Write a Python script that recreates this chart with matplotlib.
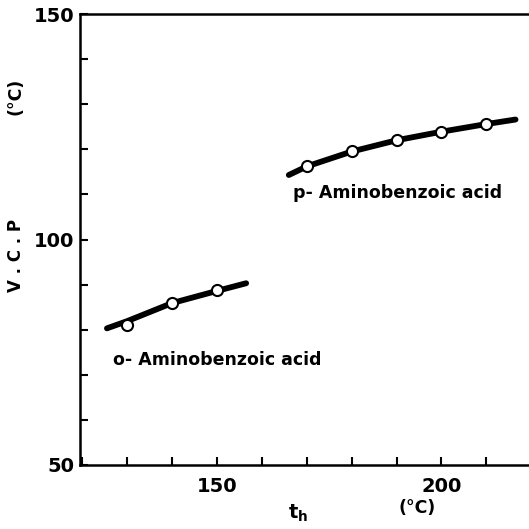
import matplotlib.pyplot as plt
from matplotlib.ticker import MultipleLocator, FixedLocator

# measured points (open circles)
ortho_t = [130, 140, 150]
ortho_vcp = [81.0, 86.0, 88.8]
para_t = [170, 180, 190, 200, 210]
para_vcp = [116.3, 119.6, 122.1, 123.8, 125.6]

# hand-drawn trend curves through the points
ortho_curve_t = [125.5, 130, 140, 150, 156.5]
ortho_curve_vcp = [80.3, 81.9, 85.9, 88.6, 90.3]
para_curve_t = [166, 170, 180, 190, 200, 210, 216.5]
para_curve_vcp = [114.3, 116.2, 119.5, 122.0, 123.9, 125.6, 126.6]

x_major = [150, 200]
y_major = [50, 100, 150]

dpi = 100
fig = plt.figure(figsize=(5.29, 5.29), dpi=dpi)
plt.rcParams['font.family'] = ['DejaVu Sans']
ax = fig.add_axes([80 / 529, 64 / 529, 449 / 529, 451 / 529])

ax.plot(ortho_curve_t, ortho_curve_vcp, color='black', lw=4.2,
        solid_capstyle='round', zorder=2)
ax.plot(para_curve_t, para_curve_vcp, color='black', lw=4.2,
        solid_capstyle='round', zorder=2)
ax.plot(ortho_t, ortho_vcp, 'o', ms=8, mfc='white', mec='black', mew=1.5, zorder=3)
ax.plot(para_t, para_vcp, 'o', ms=8, mfc='white', mec='black', mew=1.5, zorder=3)

ax.set_xlim(119.5, 219.5)
ax.set_ylim(50, 150)

ax.xaxis.set_major_locator(FixedLocator(x_major))
ax.yaxis.set_major_locator(FixedLocator(y_major))
ax.xaxis.set_minor_locator(MultipleLocator(10))
ax.yaxis.set_minor_locator(MultipleLocator(10))
ax.tick_params(which='both', direction='in', length=6, width=1.5)
ax.tick_params(axis='x', which='major', pad=9, labelsize=14)
ax.tick_params(axis='y', which='major', pad=4, labelsize=14)
for lbl in ax.get_xticklabels() + ax.get_yticklabels():
    lbl.set_fontweight('bold')

for side in ['left', 'bottom', 'top']:
    ax.spines[side].set_linewidth(1.8)
ax.spines['right'].set_visible(False)

ax.text(126.8, 73.3, 'o- Aminobenzoic acid', fontsize=12.5, fontweight='bold',
        ha='left', va='center')
ax.text(167, 110.3, 'p- Aminobenzoic acid', fontsize=12.5, fontweight='bold',
        ha='left', va='center')

fig.text(16 / 529, 1 - 256 / 529, 'V . C . P', rotation=90, fontsize=12,
         fontweight='bold', ha='center', va='center')
fig.text(16 / 529, 1 - 96 / 529, '(°C)', rotation=90, fontsize=12.5,
         fontweight='bold', ha='center', va='center')
fig.text(298 / 529, 1 - 513 / 529, r'$\mathbf{t_h}$', fontsize=14,
         ha='center', va='center')
fig.text(417 / 529, 1 - 508 / 529, '(°C)', fontsize=12.5, fontweight='bold',
         ha='center', va='center')

fig.savefig('out.png', dpi=dpi)
